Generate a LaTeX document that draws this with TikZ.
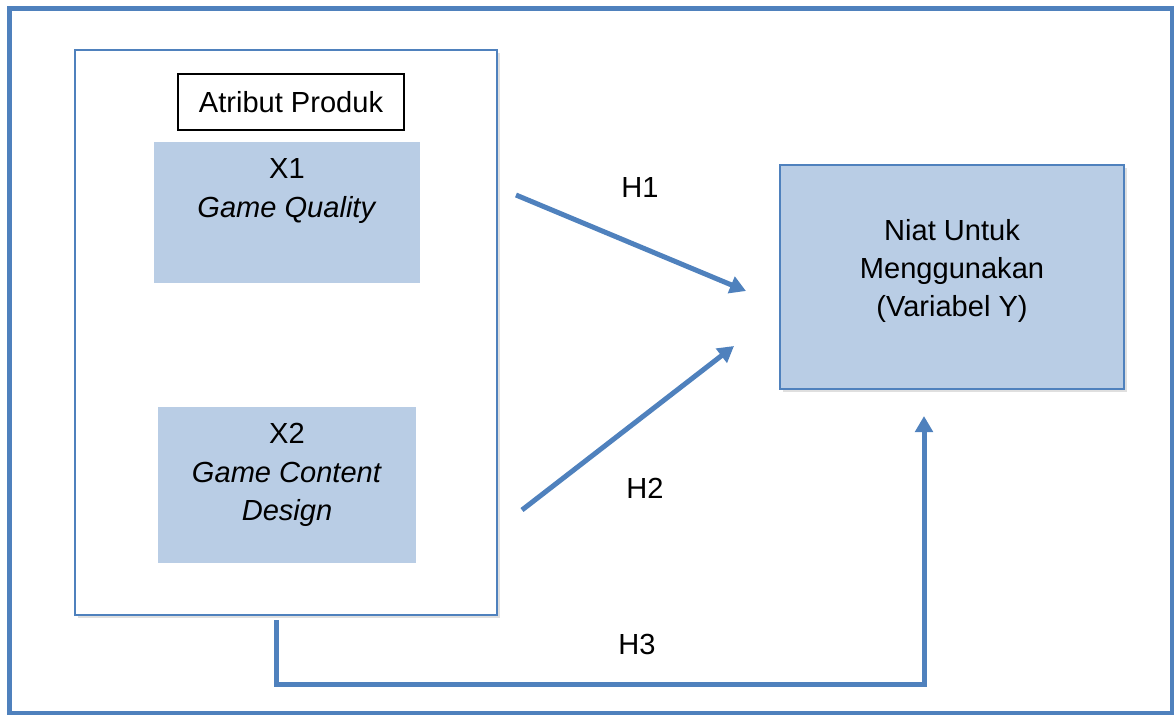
\documentclass[tikz,border=0pt]{standalone}
\usepackage{fontspec}
\setmainfont{Liberation Sans}
\usetikzlibrary{arrows.meta,shadows}
\definecolor{frameblue}{RGB}{79,129,189}
\definecolor{boxfill}{RGB}{185,205,229}

\begin{document}
\begin{tikzpicture}[x=0.75pt, y=-0.75pt,
    every node/.style={font=\fontsize{21.8}{28.7}\selectfont, inner sep=0pt},
    varbox/.style={fill=boxfill, minimum width=#1},
    hyparrow/.style={draw=frameblue, line width=3.75pt, line join=miter,
      -{Triangle[width=13pt, length=12pt]}},
    softshadow/.style={drop shadow={shadow xshift=2pt, shadow yshift=-2pt, opacity=0.25}}]
    \useasboundingbox (0,0) rectangle (1176,715);
    % outer frame
    \draw[frameblue, line width=3.2pt] (9.5,8.5) rectangle (1172,713);
    % group of product attributes
    \node[draw=frameblue, line width=1.3pt, fill=white, softshadow,
      minimum width=422*0.75pt, minimum height=565*0.75pt] (grp) at (286,332.5) {};
    \node[draw=black, line width=0.9pt, fill=white,
      minimum width=226*0.75pt, minimum height=56*0.75pt] (attr) at (291,102) {Atribut Produk};
    % independent variables
    \node[varbox=266*0.75pt, minimum height=141*0.75pt] (x1) at (287,212.5) {};
    \node[align=center] (x1txt) at (287,191) {X1\\\textit{Game Quality}};
    \node[varbox=258*0.75pt, minimum height=156*0.75pt] (x2) at (287,485) {};
    \node[align=center] (x2txt) at (287,475) {X2\\\textit{Game Content}\\\textit{Design}};
    % dependent variable
    \node[varbox=344*0.75pt, draw=frameblue, line width=1.3pt, softshadow,
      minimum height=224*0.75pt] (y) at (952,277) {};
    \node[align=center] (ytxt) at (952,271) {Niat Untuk\\Menggunakan\\(Variabel Y)};
    % arrow ends
    \coordinate (h1s) at (516,195);
    \coordinate (h1e) at (746,291);
    \coordinate (h2s) at (522,510);
    \coordinate (h2e) at (734,346);
    \coordinate (h3s) at (276,620);
    \coordinate (h3e) at (924,416);
    \draw[hyparrow] (h1s) -- (h1e);
    \draw[hyparrow] (h2s) -- (h2e);
    \draw[hyparrow] (h3s) -- (276,684) -- (924,684) -- (h3e);
    % hypothesis labels
    \node (h1) at (640,187) {H1};
    \node (h2) at (645,488) {H2};
    \node (h3) at (637,644) {H3};
\end{tikzpicture}
\end{document}
